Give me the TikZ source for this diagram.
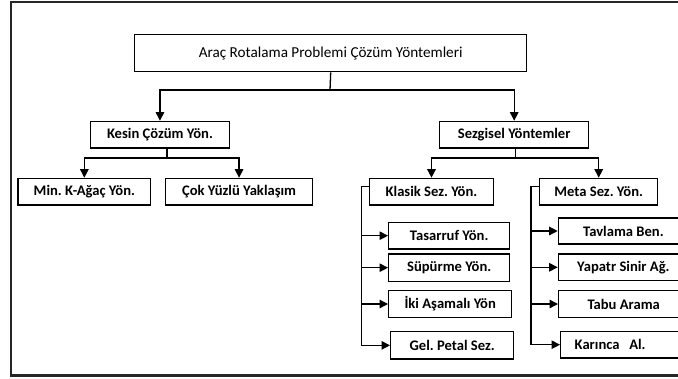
\documentclass[tikz,border=0pt]{standalone}
\usepackage{fontspec}
\setmainfont{Carlito}
\usetikzlibrary{arrows.meta}
\frenchspacing
\begin{document}
\begin{tikzpicture}[x=1pt,y=-1pt,
  box/.style={draw=black, line width=1.4pt, anchor=north west, inner sep=0pt,
    font=\bfseries\fontsize{14.6}{16}\selectfont, align=center, minimum height=26.6pt},
  conn/.style={line width=1.3pt, draw=black},
  arr/.style={conn, -{Triangle[width=8.5pt,length=8.5pt]}},
  frame/.style={line width=2.4pt, draw=black!85}]
\useasboundingbox (0,0) rectangle (678,378);
\clip (0,0) rectangle (678,378);
\fill[white] (0,0) rectangle (678,378);
\draw[frame] (700,2) -- (11,2) -- (11,375.5) -- (700,375.5);

\node[box, font=\fontsize{15.2}{17}\selectfont, minimum width=392pt, minimum height=37pt] (top) at (134,34) {Araç Rotalama Problemi Çözüm Yöntemleri};

\node[box, minimum width=139.5pt] (kesin) at (89.5,120.7) {Kesin Çözüm Yön.};
\node[box, minimum width=149pt] (sez) at (439,120.7) {Sezgisel Yöntemler};

\node[box, minimum width=132.7pt] (min) at (17.3,177.7) {Min. K-Ağaç Yön.};
\node[box, minimum width=147.3pt] (cok) at (164.7,177.7) {Çok Yüzlü Yaklaşım};
\node[box, minimum width=124pt] (klasik) at (368.8,177.7) {Klasik Sez. Yön.};
\node[box, minimum width=118pt] (meta) at (539,177.7) {Meta Sez. Yön.};

\node[box, minimum width=121pt] (tas) at (388,221.7) {Tasarruf Yön.};
\node[box, minimum width=121pt, minimum height=27.4pt] (sup) at (388,253.3) {Süpürme Yön.};
\node[box, minimum width=123pt] (iki) at (388,290) {İki Aşamalı Yön};
\node[box, minimum width=123pt, minimum height=27.3pt] (gel) at (390,331) {Gel. Petal Sez.};

\node[box, minimum width=130pt, minimum height=26pt] (tav) at (557.7,217.3) {Tavlama Ben.};
\node[box, minimum width=130pt] (yap) at (557.7,253.3) {Yapatr Sinir Ağ.};
\node[box, minimum width=130pt] (tabu) at (558,290) {Tabu Arama};
\node[box, minimum width=128pt, text width=100pt, inner xsep=14pt, align=left] (kar) at (560,330.7) {Karınca\ \ Al.};

% level 1
\coordinate (j1) at (330,90);
\draw[conn] (top.south) -- (j1);
\draw[arr] (j1) -| (kesin.north);
\draw[arr] (j1) -| (sez.north);

% kesin children
\coordinate (k1) at (167,158);
\draw[conn] (k1 |- kesin.south) -- (k1);
\draw[arr] (k1) -| (min.north);
\draw[arr] (k1) -| (cok.north);

% sezgisel children
\coordinate (s1) at (515.8,158);
\draw[conn] (s1 |- sez.south) -- (s1);
\draw[arr] (s1) -| (klasik.north);
\draw[arr] (s1) -| (meta.north);

% klasik bus
\coordinate (kb) at (361.4,186.7);
\draw[arr] (klasik.west |- kb) -- (kb) |- (gel.west);
\draw[arr] (kb |- tas.west) -- (tas.west);
\draw[arr] (kb |- sup.west) -- (sup.west);
\draw[arr] (kb |- iki.west) -- (iki.west);

% meta bus
\coordinate (mb) at (531,186.7);
\draw[arr] (meta.west |- mb) -- (mb) |- (kar.west);
\draw[arr] (mb |- tav.west) -- (tav.west);
\draw[arr] (mb |- yap.west) -- (yap.west);
\draw[arr] (mb |- tabu.west) -- (tabu.west);
\end{tikzpicture}
\end{document}
